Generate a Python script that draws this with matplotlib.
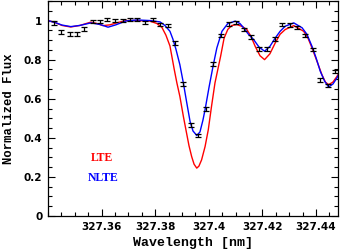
import matplotlib
matplotlib.use("Agg")
import matplotlib.pyplot as plt
from matplotlib.ticker import MultipleLocator, FixedLocator

# observed spectrum
obs_wl = [327.34208, 327.34481, 327.34817, 327.35089, 327.35339, 327.35686,
          327.35937, 327.36209, 327.36496, 327.36784, 327.37056, 327.37329,
          327.37616, 327.37904, 327.38195, 327.38475, 327.38755, 327.39042,
          327.39333, 327.39606, 327.39882, 327.40166, 327.40453, 327.40741,
          327.41021, 327.41300, 327.41584, 327.41883, 327.42170, 327.42458,
          327.42730, 327.43018, 327.43290, 327.43600, 327.43876, 327.44160,
          327.44436, 327.44720]
obs_flux = [0.988, 0.942, 0.932, 0.932, 0.957, 0.995, 0.995, 1.005, 1.000,
            1.000, 1.005, 1.005, 0.991, 1.006, 0.979, 0.974, 0.884, 0.676,
            0.466, 0.412, 0.548, 0.778, 0.923, 0.983, 0.991, 0.954, 0.916,
            0.855, 0.855, 0.906, 0.979, 0.976, 0.964, 0.923, 0.853, 0.697,
            0.667, 0.740]
obs_err = [0.009] * len(obs_wl)

# NLTE synthetic spectrum
nlte_wl = [327.3400, 327.3426, 327.3452, 327.3485, 327.3519, 327.3560, 327.3594,
           327.3624, 327.3653, 327.3691, 327.3732, 327.3780, 327.3818, 327.3836,
           327.3855, 327.3866, 327.3877, 327.3892, 327.3905, 327.3917, 327.3930,
           327.3941, 327.3955, 327.3967, 327.3978, 327.3986, 327.4001, 327.4017,
           327.4030, 327.4049, 327.4071, 327.4099, 327.4116, 327.4130, 327.4146,
           327.4167, 327.4187, 327.4208, 327.4228, 327.4248, 327.4266, 327.4285,
           327.4317, 327.4348, 327.4366, 327.4385, 327.4400, 327.4416, 327.4432,
           327.4447, 327.4463, 327.4478, 327.4490]
nlte_flux = [1.000, 0.990, 0.977, 0.969, 0.975, 0.988, 0.980, 0.966, 0.978,
             0.998, 1.003, 1.000, 0.993, 0.975, 0.945, 0.905, 0.855, 0.774,
             0.681, 0.585, 0.484, 0.435, 0.412, 0.430, 0.490, 0.544, 0.660,
             0.775, 0.860, 0.945, 0.985, 0.997, 0.985, 0.963, 0.933, 0.903,
             0.865, 0.843, 0.868, 0.911, 0.945, 0.971, 0.988, 0.963, 0.930,
             0.868, 0.810, 0.740, 0.690, 0.660, 0.675, 0.706, 0.740]

# LTE synthetic spectrum
lte_wl = [327.3400, 327.3426, 327.3452, 327.3485, 327.3519, 327.3560, 327.3582,
          327.3605, 327.3631, 327.3661, 327.3691, 327.3732, 327.3780, 327.3806,
          327.3825, 327.3840, 327.3855, 327.3871, 327.3881, 327.3892, 327.3905,
          327.3917, 327.3926, 327.3936, 327.3945, 327.3955, 327.3963, 327.3973,
          327.3986, 327.3998, 327.4010, 327.4023, 327.4044, 327.4057, 327.4071,
          327.4086, 327.4105, 327.4124, 327.4142, 327.4157, 327.4173, 327.4191,
          327.4208, 327.4228, 327.4248, 327.4266, 327.4285, 327.4317, 327.4354,
          327.4370, 327.4385, 327.4404, 327.4422, 327.4435, 327.4447, 327.4463,
          327.4478, 327.4490]
lte_flux = [1.000, 0.990, 0.975, 0.967, 0.975, 0.992, 0.985, 0.974, 0.978,
            0.990, 1.000, 1.000, 0.997, 0.985, 0.965, 0.925, 0.870, 0.750,
            0.680, 0.612, 0.510, 0.424, 0.360, 0.304, 0.265, 0.245, 0.255,
            0.287, 0.355, 0.441, 0.560, 0.681, 0.817, 0.910, 0.955, 0.975,
            0.979, 0.970, 0.954, 0.920, 0.868, 0.820, 0.800, 0.830, 0.886,
            0.930, 0.954, 0.974, 0.945, 0.910, 0.860, 0.790, 0.723, 0.685,
            0.672, 0.685, 0.714, 0.740]

x_ticks = [327.36, 327.38, 327.40, 327.42, 327.44]
x_ticklabels = ['327.36', '327.38', '327.4', '327.42', '327.44']
y_ticks = [0, 0.2, 0.4, 0.6, 0.8, 1.0]
y_ticklabels = ['0', '0.2', '0.4', '0.6', '0.8', '1']

fig = plt.figure(figsize=(3.44, 2.52), dpi=100)
ax = fig.add_axes([48/344, 36/252, 290/344, 215/252])

ax.plot(lte_wl, lte_flux, color='#ff0000', lw=1.0)
ax.plot(nlte_wl, nlte_flux, color='#0000ff', lw=1.0)
ax.errorbar(obs_wl, obs_flux, yerr=obs_err, fmt='none', ecolor='black',
            elinewidth=0.9, capsize=2.0, capthick=0.9)

ax.set_xlim(327.34, 327.4482)
ax.set_ylim(0, 1.1)

ax.set_xticks(x_ticks)
ax.set_xticklabels(x_ticklabels)
ax.set_yticks(y_ticks)
ax.set_yticklabels(y_ticklabels)
ax.xaxis.set_minor_locator(MultipleLocator(0.005))
ax.yaxis.set_minor_locator(MultipleLocator(0.05))

ax.tick_params(which='both', direction='in', top=True, right=True, width=0.8)
ax.tick_params(which='major', length=5, labelsize=7.5, pad=4)
ax.tick_params(which='minor', length=2.8)
for lab in ax.get_xticklabels() + ax.get_yticklabels():
    lab.set_fontweight('bold')
for s in ax.spines.values():
    s.set_linewidth(0.9)

ax.set_xlabel('Wavelength [nm]', family='Liberation Mono', fontweight='bold',
              fontsize=9.5, labelpad=4)
ax.set_ylabel('Normalized Flux', family='Liberation Mono', fontweight='bold',
              fontsize=8.8, labelpad=6)

ax.text(0.186, 0.27, 'LTE', color='#ff0000', family='Liberation Serif',
        fontweight='bold', fontsize=8.5, ha='center', va='center',
        transform=ax.transAxes)
ax.text(0.19, 0.177, 'NLTE', color='#0000ff', family='Liberation Serif',
        fontweight='bold', fontsize=8.5, ha='center', va='center',
        transform=ax.transAxes)

fig.savefig('out.png', dpi=100)
